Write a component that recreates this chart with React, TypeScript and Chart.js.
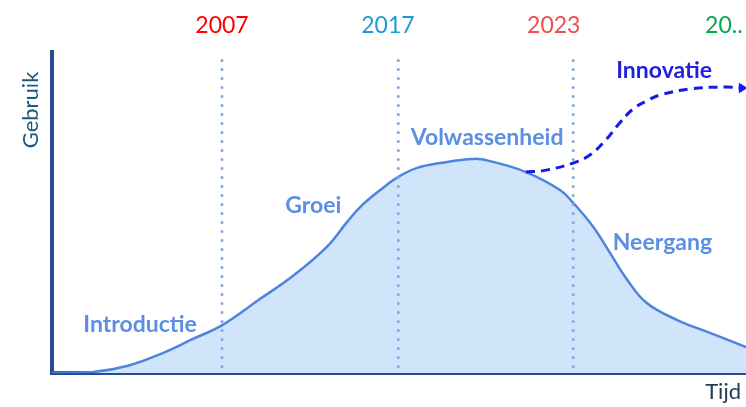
import React, { useEffect, useRef } from "react";
import { Chart, registerables } from "chart.js";

Chart.register(...registerables);

// Product life-cycle curve (x: time 0..100, y: usage 0..100)
const curveX = [0, 5.9, 10.8, 15.6, 20.3, 24.6, 30.0, 34.7, 39.6, 42.5, 44.4, 47.3, 49.9, 52.6, 55.9, 60.7, 63.1, 68.3, 73.2, 75.1, 78.0, 80.4, 82.9, 85.7, 90.1, 94.8, 100];
const curveY = [0, 0.3, 2.2, 5.9, 10.6, 15.0, 23.1, 30.2, 39.3, 47.0, 51.7, 57.0, 61.1, 63.9, 65.4, 66.7, 66.0, 62.6, 57.0, 53.0, 45.5, 37.4, 29.0, 21.8, 16.5, 12.5, 8.1];

// Innovation branch (dashed, with arrow)
const innovX = [68.3, 71.2, 75.1, 77.5, 79.8, 81.8, 83.7, 85.6, 87.6, 91.9, 97.1, 99.4];
const innovY = [62.6, 63.2, 65.4, 67.9, 72.6, 77.9, 82.2, 84.7, 86.6, 88.5, 89.1, 88.8];

// Milestone years (vertical dotted lines)
const yearLabels = ["2007", "2017", "2023"];
const yearX = [24.5, 49.9, 75.1];

// Text annotations
const topLabels = ["2007", "2017", "2023", "20.."];
const topLabelColors = ["#ff0000", "#1a9ad6", "#f24a4d", "#00a94f"];
const phaseLabels = ["Introductie", "Groei", "Volwassenheid", "Neergang", "Innovatie"];

const FONT = "Lato, 'Open Sans', sans-serif";

export default function App() {
  const ref = useRef<HTMLCanvasElement | null>(null);

  useEffect(() => {
    if (!ref.current) return;

    const textPlugin = {
      id: "texts",
      afterDraw(chart: any) {
        const { ctx } = chart;
        const xs = chart.scales.x;
        const ys = chart.scales.y;
        const px = (v: number) => xs.getPixelForValue(v);
        const py = (v: number) => ys.getPixelForValue(v);
        ctx.save();
        ctx.textBaseline = "alphabetic";

        const topPos: [number, number, CanvasTextAlign][] = [
          [24.5, 105.9, "center"],
          [48.4, 105.9, "center"],
          [72.3, 105.9, "center"],
          [94.1, 105.9, "left"],
        ];
        ctx.font = `23px ${FONT}`;
        topLabels.forEach((t, i) => {
          ctx.fillStyle = topLabelColors[i];
          ctx.textAlign = topPos[i][2];
          ctx.fillText(t, px(topPos[i][0]), py(topPos[i][1]));
        });

        const phasePos: [number, number][] = [
          [4.5, 12.8],
          [33.6, 49.8],
          [51.7, 71.0],
          [80.8, 38.3],
          [81.3, 91.9],
        ];
        ctx.font = `bold 23px ${FONT}`;
        ctx.textAlign = "left";
        phaseLabels.forEach((t, i) => {
          ctx.fillStyle = i === 4 ? "#1f1fe0" : "#5a8fe2";
          ctx.fillText(t, px(phasePos[i][0]), py(phasePos[i][1]));
        });

        ctx.font = `22px ${FONT}`;
        ctx.fillStyle = "#1d5a7c";
        ctx.save();
        ctx.translate(38, 110);
        ctx.rotate(-Math.PI / 2);
        ctx.textAlign = "center";
        ctx.fillText("Gebruik", 0, 0);
        ctx.restore();

        ctx.fillStyle = "#213b55";
        ctx.textAlign = "right";
        ctx.fillText("Tijd", 741, 399);
        ctx.restore();
      },
    };

    const yearDatasets = yearLabels.map((lbl, i) => ({
      label: lbl,
      data: [
        { x: yearX[i], y: 2 },
        { x: yearX[i], y: 100 },
      ],
      borderColor: "#7ea6e8",
      borderWidth: 3,
      borderDash: [0, 9],
      borderCapStyle: "round" as const,
      pointRadius: 0,
      fill: false,
      order: 0,
    }));

    const chart = new Chart(ref.current, {
      type: "line",
      data: {
        datasets: [
          ...yearDatasets,
          {
            label: "Innovatie",
            data: innovX.map((x, i) => ({ x, y: innovY[i] })),
            borderColor: "#1818e8",
            backgroundColor: "#1818e8",
            borderWidth: 3,
            borderDash: [9, 6],
            tension: 0.4,
            fill: false,
            pointStyle: "triangle",
            pointRotation: 90,
            pointRadius: (c: any) => (c.dataIndex === innovX.length - 1 ? 6 : 0),
            pointBorderWidth: 0,
            order: 1,
          },
          {
            label: "Levenscyclus",
            data: curveX.map((x, i) => ({ x, y: curveY[i] })),
            borderColor: "#4d84df",
            backgroundColor: "#d0e5f9",
            borderWidth: 2.5,
            tension: 0.4,
            fill: "origin",
            pointRadius: 0,
            order: 2,
          },
        ] as any,
      },
      options: {
        animation: false,
        responsive: true,
        maintainAspectRatio: false,
        layout: { autoPadding: false, padding: { left: 52, top: 52, right: 0, bottom: 34 } },
        plugins: {
          legend: { display: false },
          tooltip: { enabled: false },
        },
        scales: {
          x: {
            type: "linear",
            min: 0,
            max: 100,
            grid: { display: false, drawTicks: false },
            ticks: { display: false },
            border: { display: true, color: "#2a4b8f", width: 4 },
            afterFit: (s: any) => {
              s.height = 0;
            },
          },
          y: {
            type: "linear",
            min: 0,
            max: 100,
            grid: { display: false, drawTicks: false },
            ticks: { display: false },
            border: { display: true, color: "#2a4b8f", width: 4 },
            afterFit: (s: any) => {
              s.width = 0;
            },
          },
        },
      },
      plugins: [textPlugin],
    });

    return () => chart.destroy();
  }, []);

  return (
    <div style={{ position: "absolute", left: 0, top: 0, width: 746, height: 407, background: "#ffffff" }}>
      <canvas ref={ref} />
    </div>
  );
}
